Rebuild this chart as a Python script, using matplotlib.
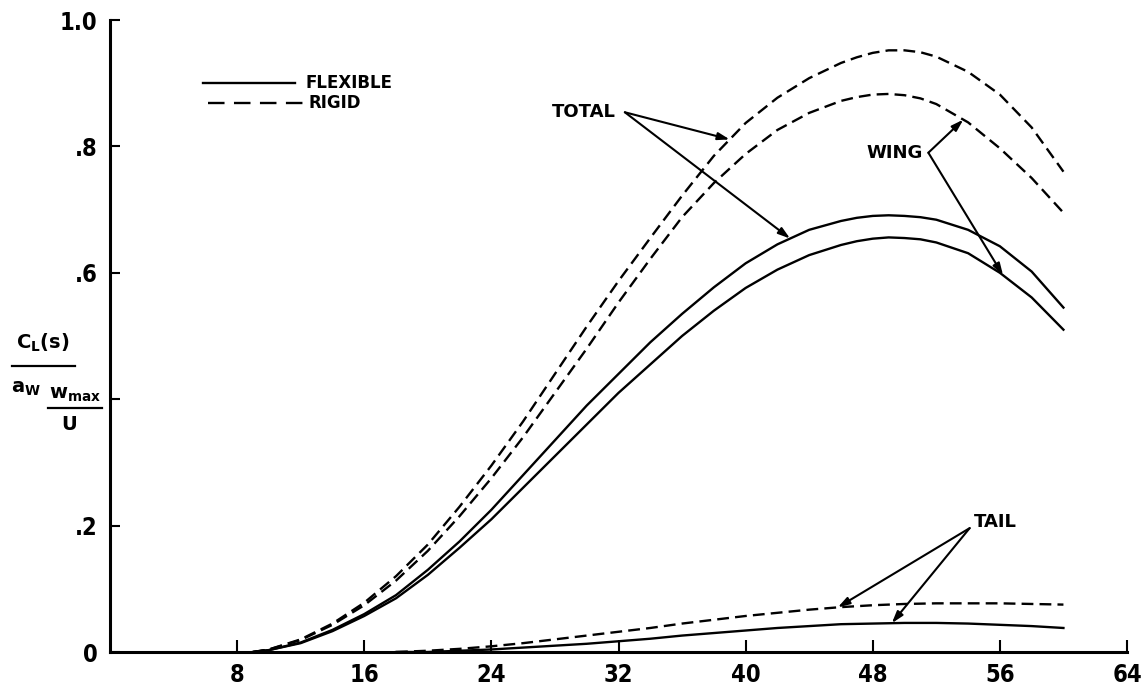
import numpy as np
import matplotlib
matplotlib.use('Agg')
import matplotlib.pyplot as plt
from matplotlib.lines import Line2D

plt.rcParams['font.family'] = ['DejaVu Sans']
plt.rcParams['font.weight'] = 'bold'
plt.rcParams['mathtext.fontset'] = 'dejavusans'

# distance s (main curves)
s_main = [9, 10, 12, 14, 16, 18, 20, 22, 24, 26, 28, 30, 32, 34, 36, 38, 40,
          42, 44, 46, 47, 48, 49, 50, 51, 52, 54, 56, 58, 60]
total_rigid = [0, 0.004, 0.02, 0.045, 0.078, 0.12, 0.17, 0.23, 0.295, 0.365, 0.44,
               0.515, 0.587, 0.655, 0.722, 0.785, 0.837, 0.877, 0.908, 0.932, 0.941,
               0.948, 0.952, 0.952, 0.949, 0.942, 0.918, 0.882, 0.83, 0.76]
wing_rigid = [0, 0.004, 0.019, 0.043, 0.074, 0.113, 0.16, 0.215, 0.275, 0.34, 0.41,
              0.48, 0.553, 0.622, 0.688, 0.742, 0.788, 0.826, 0.853, 0.872, 0.878,
              0.882, 0.883, 0.881, 0.876, 0.867, 0.838, 0.797, 0.75, 0.695]
total_flex = [0, 0.003, 0.015, 0.035, 0.06, 0.09, 0.13, 0.175, 0.225, 0.28, 0.335,
              0.39, 0.44, 0.49, 0.535, 0.577, 0.615, 0.645, 0.668, 0.682, 0.687,
              0.69, 0.691, 0.69, 0.688, 0.684, 0.668, 0.642, 0.602, 0.545]
wing_flex = [0, 0.003, 0.014, 0.033, 0.057, 0.085, 0.122, 0.165, 0.21, 0.26, 0.31,
             0.36, 0.41, 0.455, 0.5, 0.54, 0.576, 0.605, 0.628, 0.644, 0.65,
             0.654, 0.656, 0.655, 0.653, 0.648, 0.631, 0.6, 0.561, 0.51]

# tail contribution
s_tail = [18, 20, 22, 24, 26, 28, 30, 32, 34, 36, 38, 40, 42, 44, 46, 48, 50,
          52, 54, 56, 58, 60]
tail_rigid = [0, 0.002, 0.005, 0.009, 0.014, 0.02, 0.026, 0.032, 0.038, 0.045,
              0.051, 0.057, 0.062, 0.067, 0.071, 0.074, 0.076, 0.077, 0.077,
              0.077, 0.076, 0.075]
tail_flex = [0, 0, 0.002, 0.004, 0.007, 0.01, 0.013, 0.017, 0.021, 0.026, 0.03,
             0.034, 0.038, 0.041, 0.044, 0.045, 0.046, 0.046, 0.045, 0.043,
             0.041, 0.038]

x_ticks = [8, 16, 24, 32, 40, 48, 56, 64]
y_ticks = [0, 0.2, 0.4, 0.6, 0.8, 1.0]
y_ticklabels = ['0', '.2', '', '.6', '.8', '1.0']

W, H = 1146, 687
fig = plt.figure(figsize=(W / 100, H / 100), dpi=100)
ax = fig.add_axes([110 / W, 1 - 652 / H, (1127 - 110) / W, (652 - 20) / H])

lw = 1.7
dash = (5, 2.6)
ax.plot(s_main, total_rigid, color='black', lw=lw, dashes=dash)
ax.plot(s_main, wing_rigid, color='black', lw=lw, dashes=dash)
ax.plot(s_main, total_flex, color='black', lw=lw)
ax.plot(s_main, wing_flex, color='black', lw=lw)
ax.plot(s_tail, tail_rigid, color='black', lw=lw, dashes=dash)
ax.plot(s_tail, tail_flex, color='black', lw=lw)

ax.set_xlim(0, 64)
ax.set_ylim(0, 1.0)
for side in ['top', 'right']:
    ax.spines[side].set_visible(False)
for side in ['left', 'bottom']:
    ax.spines[side].set_linewidth(2.2)

ax.set_xticks(x_ticks)
ax.set_xticklabels([str(t) for t in x_ticks])
ax.set_yticks(y_ticks)
ax.set_yticklabels(y_ticklabels)
ax.tick_params(axis='x', direction='in', length=8.5, width=1.5, pad=8, labelsize=17)
ax.tick_params(axis='y', direction='in', length=7, width=1.5, pad=9, labelsize=17)
for lab in ax.get_xticklabels() + ax.get_yticklabels():
    lab.set_fontweight('bold')
    lab.set_fontstretch('condensed')

# legend
ax.add_line(Line2D([5.85, 11.65], [0.9, 0.9], color='black', lw=lw))
ax.add_line(Line2D([6.17, 12.15], [0.868, 0.868], color='black', lw=lw,
                   dashes=(7, 4)))
ax.text(12.3, 0.9, 'FLEXIBLE', fontsize=12, fontweight='bold', va='center')
ax.text(12.5, 0.868, 'RIGID', fontsize=12, fontweight='bold', va='center')

# labels with arrows
arrow = dict(arrowstyle='-|>,head_length=0.7,head_width=0.22', color='black',
             lw=1.5, shrinkA=0, shrinkB=0)


def point(xs, ys, x):
    return (x, float(np.interp(x, xs, ys)))


ax.text(29.8, 0.854, 'TOTAL', fontsize=13, fontweight='bold', ha='center', va='center')
for tgt in [point(s_main, total_rigid, 39.0), point(s_main, total_flex, 42.8)]:
    ax.annotate('', xy=tgt, xytext=(32.4, 0.854), arrowprops=arrow)

ax.text(49.4, 0.79, 'WING', fontsize=13, fontweight='bold', ha='center', va='center')
for tgt in [point(s_main, wing_rigid, 53.7), point(s_main, wing_flex, 56.2)]:
    ax.annotate('', xy=tgt, xytext=(51.5, 0.79), arrowprops=arrow)

ax.text(55.7, 0.206, 'TAIL', fontsize=13, fontweight='bold', ha='center', va='center')
for tgt in [point(s_tail, tail_rigid, 45.8), point(s_tail, tail_flex, 49.2)]:
    ax.annotate('', xy=tgt, xytext=(54.1, 0.196), arrowprops=arrow)


# y-axis label built as a stacked fraction
def fx(px):
    return px / W


def fy(py):
    return 1 - py / H


fig.text(fx(43), fy(343), r'$\mathbf{C_L(s)}$', fontsize=14, ha='center', va='center')
fig.add_artist(Line2D([fx(12), fx(75)], [fy(366), fy(366)], color='black', lw=1.6))
fig.text(fx(26), fy(388), r'$\mathbf{a_W}$', fontsize=14, ha='center', va='center')
fig.text(fx(75), fy(394), r'$\mathbf{w_{max}}$', fontsize=14, ha='center', va='center')
fig.add_artist(Line2D([fx(48), fx(102)], [fy(408), fy(408)], color='black', lw=1.6))
fig.text(fx(69), fy(425), r'$\mathbf{U}$', fontsize=14, ha='center', va='center')

fig.savefig('out.png', dpi=100)
